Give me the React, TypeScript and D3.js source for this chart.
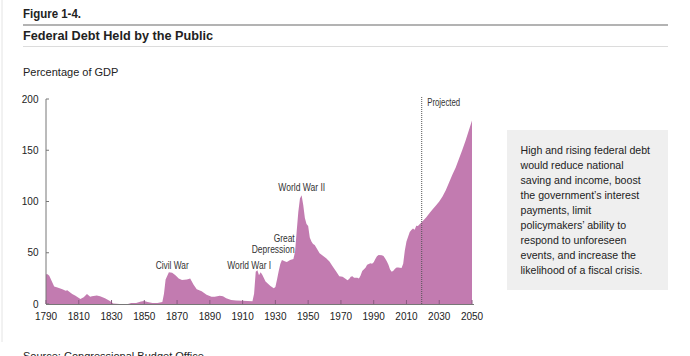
import React from "react";
import * as d3 from "d3";

const years: number[] = [
  1790, 1791, 1792, 1795, 1797, 1800, 1802, 1803, 1806, 1808, 1811, 1813, 1815, 1817, 1818, 1821, 1823, 1826, 1829, 1831,
  1835, 1840, 1842, 1845, 1848, 1850, 1852, 1855, 1858, 1861, 1862, 1863, 1865, 1867, 1869, 1871, 1873, 1876, 1878, 1880,
  1882, 1885, 1888, 1891, 1893, 1896, 1898, 1900, 1903, 1906, 1910, 1913, 1916, 1917, 1918, 1919, 1920, 1921, 1922, 1924,
  1927, 1929, 1930, 1931, 1932, 1933, 1934, 1936, 1937, 1939, 1941, 1942, 1943, 1944, 1945, 1946, 1947, 1948, 1949, 1950,
  1951, 1952, 1953, 1954, 1955, 1957, 1959, 1961, 1963, 1965, 1967, 1969, 1971, 1973, 1974, 1975, 1976, 1977, 1978, 1980,
  1981, 1982, 1983, 1985, 1986, 1988, 1989, 1990, 1991, 1992, 1993, 1995, 1996, 1997, 1998, 1999, 2000, 2001, 2002, 2003,
  2004, 2005, 2006, 2007, 2008, 2009, 2010, 2011, 2012, 2013, 2014, 2015, 2016, 2017, 2018, 2019, 2020, 2022, 2024, 2026,
  2028, 2030, 2032, 2034, 2036, 2038, 2040, 2042, 2044, 2046, 2048, 2050,
];
const debt: number[] = [
  29, 29, 27.5, 17, 16, 14.5, 13, 13.5, 9.8, 8, 5, 6.5, 9.8, 7, 7.5, 8.2, 7.5, 5.5, 3, 0.5,
  0, 0, 1, 1, 2.5, 3, 2, 1, 1, 2, 10, 24, 31, 30.5, 28, 25, 23.5, 24, 25, 19,
  14.5, 12.5, 9, 7, 7, 8, 7.5, 5.5, 4, 3.5, 3.2, 3, 2.6, 10, 31.5, 33, 28, 31, 28.5, 22,
  17.5, 15.3, 16.5, 24, 32, 39, 43, 41.5, 41, 43, 44, 51, 71, 90, 103, 106, 96.6, 84, 78, 76,
  65, 61, 58.5, 57.6, 55, 49.5, 47, 44.6, 41.5, 36.5, 32, 27, 26.5, 24.5, 23.2, 24.5, 26.7, 27, 25.7, 25.5,
  25, 27.9, 32.1, 35.3, 38.4, 39.7, 39.3, 40.8, 44, 46.6, 47.8, 47.5, 46.8, 44.5, 41.6, 38.2, 33.6, 31.4, 32.5, 34.5,
  35.5, 35.6, 35.3, 35.2, 39.2, 52.3, 60.9, 65.5, 70.3, 72.2, 73.7, 72.5, 76.4, 76.1, 77.8, 79.2, 81, 84.5, 88.5, 92.5,
  96, 100, 105, 111, 118.5, 126, 133, 141.5, 150, 159, 169, 179,
];
const xTicks: number[] = [1790, 1810, 1830, 1850, 1870, 1890, 1910, 1930, 1950, 1970, 1990, 2010, 2030, 2050];
const yTicks: number[] = [0, 50, 100, 150, 200];
const projectedYear = 2019;

const annotations = [
  { lines: ["Civil War"], widths: [33], year: 1867, value: 38, anchor: "middle" },
  { lines: ["World War I"], widths: [44], year: 1914, value: 38, anchor: "middle" },
  { lines: ["Great", "Depression"], widths: [21, 43], year: 1941.8, value: 53.5, anchor: "end" },
  { lines: ["World War II"], widths: [47], year: 1946.1, value: 114.5, anchor: "middle" },
];

const boxLines: string[] = [
  "High and rising federal debt",
  "would reduce national",
  "saving and income, boost",
  "the government\u2019s interest",
  "payments, limit",
  "policymakers\u2019 ability to",
  "respond to unforeseen",
  "events, and increase the",
  "likelihood of a fiscal crisis.",
];

export default function App() {
  const W = 690, H = 356;
  const x = d3.scaleLinear().domain([1790, 2050]).range([46, 472]);
  const y = d3.scaleLinear().domain([0, 200]).range([304, 99]);
  const data = years.map((yr, i) => ({ yr, v: debt[i] }));
  const area = d3
    .area<{ yr: number; v: number }>()
    .x((d) => x(d.yr))
    .y0(y(0))
    .y1((d) => y(d.v));

  const sans = "'Liberation Sans', Arial, Helvetica, sans-serif";

  return (
    <svg width={W} height={H} style={{ position: "absolute", left: 0, top: 0, background: "#fff" }}>
      <line x1={2} x2={2} y1={0} y2={342} stroke="#e4e4e4" strokeWidth={1} />
      <text x={23} y={18} fontFamily={sans} fontSize={12} fontWeight={700} fill="#222" textLength={58} lengthAdjust="spacingAndGlyphs">
        Figure 1-4.
      </text>
      <line x1={23} x2={668} y1={25} y2={25} stroke="#b3b3b3" strokeWidth={2} />
      <text x={23} y={40} fontFamily={sans} fontSize={13} fontWeight={700} fill="#222" textLength={190} lengthAdjust="spacingAndGlyphs">
        Federal Debt Held by the Public
      </text>
      <line x1={23} x2={668} y1={46.5} y2={46.5} stroke="#dcdcdc" strokeWidth={1} />
      <text x={23} y={76} fontFamily={sans} fontSize={11} fill="#222">
        Percentage of GDP
      </text>

      <path d={area(data) || ""} fill="#c27bb0" />

      {/* y axis */}
      <line x1={46} x2={46} y1={y(200)} y2={y(0)} stroke="#777" strokeWidth={1} />
      {yTicks.map((t) => (
        <g key={t}>
          <line x1={46} x2={49} y1={y(t)} y2={y(t)} stroke="#777" />
          <text x={38.5} y={y(t) + 3.5} textAnchor="end" fontFamily={sans} fontSize={10} fill="#222">
            {t}
          </text>
        </g>
      ))}
      {/* x axis */}
      <line x1={46} x2={474} y1={304.5} y2={304.5} stroke="#777" strokeWidth={1} />
      {xTicks.map((t) => (
        <g key={t}>
          <line x1={x(t)} x2={x(t)} y1={304} y2={300} stroke="#8a5a80" />
          <text x={x(t)} y={320} textAnchor="middle" fontFamily={sans} fontSize={10} fill="#222">
            {t}
          </text>
        </g>
      ))}

      {/* projected */}
      <line
        x1={x(projectedYear) + 0.5}
        x2={x(projectedYear) + 0.5}
        y1={97}
        y2={304}
        stroke="#555"
        strokeWidth={1}
        strokeDasharray="1,1"
      />
      <text x={x(projectedYear) + 6} y={105.5} fontFamily={sans} fontSize={10} fill="#333" textLength={33} lengthAdjust="spacingAndGlyphs">
        Projected
      </text>

      {annotations.map((a, i) => (
        <g key={i}>
          {a.lines.map((l, j) => (
            <text
              key={j}
              x={x(a.year)}
              y={y(a.value) + (j - (a.lines.length - 1)) * 11.5 + 4}
              textAnchor={a.anchor as any}
              fontFamily={sans}
              fontSize={11.5}
              fill="#333"
              textLength={a.widths[j]}
              lengthAdjust="spacingAndGlyphs"
            >
              {l}
            </text>
          ))}
        </g>
      ))}

      {/* text box */}
      <rect x={507} y={130} width={161} height={160} fill="#efefef" />
      <text fontFamily={sans} fontSize={10.6} fill="#222">
        {boxLines.map((l, i) => (
          <tspan key={i} x={520.5} y={154 + i * 15}>
            {l}
          </tspan>
        ))}
      </text>

      <text x={23} y={360} fontFamily={sans} fontSize={11} fill="#222">
        Source: Congressional Budget Office
      </text>
    </svg>
  );
}
